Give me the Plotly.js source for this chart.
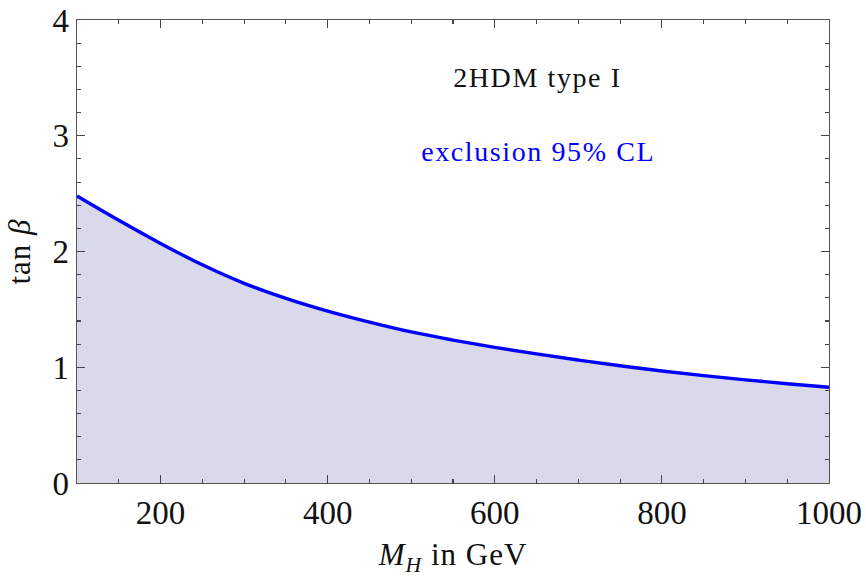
<!DOCTYPE html>
<html>
<head>
<meta charset="utf-8">
<script src="https://cdn.plot.ly/plotly-3.0.1.min.js"></script>
<style>
html,body{margin:0;padding:0;background:#fff;}
#chart{width:866px;height:577px;}
#chart .annotation-text{letter-spacing:1.6px;}
#chart .xtitle,#chart .ytitle{letter-spacing:1px;}
</style>
</head>
<body>
<div id="chart"></div>
<script>
// Data
const massGeV = [100, 150, 200, 250, 300, 350, 400, 450, 500, 550, 600, 650, 700, 750, 800, 850, 900, 950, 1000];
const tanBetaLimit = [2.48, 2.27, 2.07, 1.885, 1.725, 1.595, 1.485, 1.39, 1.305, 1.235, 1.172, 1.115, 1.062, 1.013, 0.968, 0.928, 0.891, 0.858, 0.827];
const xTickVals = [200, 400, 600, 800, 1000];
const yTickVals = [0, 1, 2, 3, 4];
const label1 = "2HDM type I";
const label2 = "exclusion 95% CL";

const serif = "Liberation Serif, Times New Roman, serif";

const trace = {
  x: massGeV, y: tanBetaLimit, type: 'scatter', mode: 'lines',
  line: {color: '#0000ff', width: 3.4, shape: 'spline', smoothing: 1.0},
  fill: 'tozeroy', fillcolor: '#d9d9eb', hoverinfo: 'skip'
};

const axisCommon = {
  showgrid: false, zeroline: false, showline: true, linecolor: '#555', linewidth: 1.3,
  mirror: 'allticks', ticks: 'inside', ticklen: 8, tickcolor: '#444', tickwidth: 1.1,
  tickfont: {family: serif, size: 33, color: '#111'}
};

const layout = {
  width: 866, height: 577,
  margin: {l: 77, r: 37, t: 20, b: 94},
  paper_bgcolor: '#fff', plot_bgcolor: '#fff',
  showlegend: false,
  xaxis: Object.assign({}, axisCommon, {
    range: [100, 1000], tickmode: 'array', tickvals: xTickVals, ticktext: xTickVals.map(String),
    minor: {dtick: 50, tick0: 0, ticklen: 4, ticks: 'inside', tickcolor: '#444', showgrid: false},
    title: {text: '<i>M</i><sub><i>H</i></sub> in GeV', font: {family: serif, size: 31, color: '#111'}, standoff: 15}
  }),
  yaxis: Object.assign({}, axisCommon, {
    range: [0, 4], tickmode: 'array', tickvals: yTickVals, ticktext: yTickVals.map(String),
    minor: {dtick: 0.2, tick0: 0, ticklen: 4, ticks: 'inside', tickcolor: '#444', showgrid: false},
    title: {text: 'tan <i>β</i>', font: {family: serif, size: 31, color: '#111'}, standoff: 12}
  }),
  annotations: [
    {xref: 'paper', yref: 'paper', x: 0.613, y: 0.875, text: label1, showarrow: false,
     font: {family: serif, size: 28, color: '#111'}, xanchor: 'center', yanchor: 'middle'},
    {xref: 'paper', yref: 'paper', x: 0.613, y: 0.715, text: label2, showarrow: false,
     font: {family: serif, size: 28, color: '#0000ff'}, xanchor: 'center', yanchor: 'middle'}
  ]
};

Plotly.newPlot('chart', [trace], layout, {displayModeBar: false, staticPlot: true});
</script>
</body>
</html>
